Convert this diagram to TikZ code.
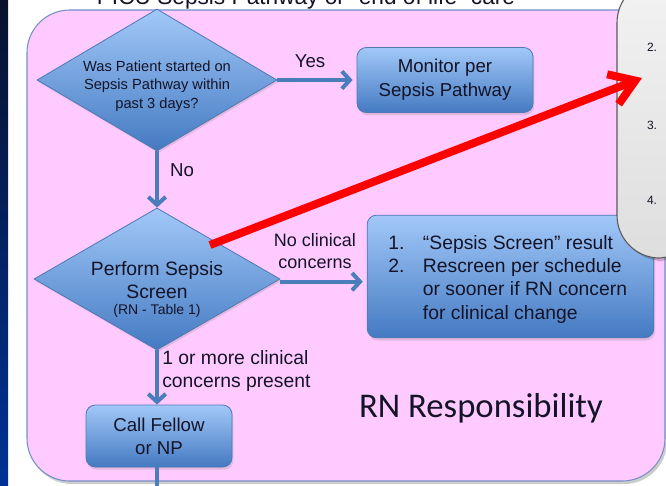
\documentclass[tikz,border=0pt]{standalone}
\usepackage{fontspec}
\setmainfont{Liberation Sans}
\newfontfamily\calib{Carlito}
\usetikzlibrary{shapes.geometric,arrows.meta,shadows}
\definecolor{pinkbg}{RGB}{255,202,255}
\definecolor{pinkline}{RGB}{115,145,200}
\definecolor{bluetop}{RGB}{162,200,248}
\definecolor{bluebot}{RGB}{68,122,194}
\definecolor{blueedge}{RGB}{80,120,180}
\definecolor{arrowblue}{RGB}{74,126,187}
\definecolor{navytop}{RGB}{8,18,45}
\definecolor{navybot}{RGB}{0,50,150}
\definecolor{txt}{RGB}{20,20,40}
\definecolor{panelline}{RGB}{90,90,90}
\tikzset{
  dshape/.style={diamond, draw=blueedge, line width=0.6pt, top color=bluetop, bottom color=bluebot,
    inner sep=0pt, drop shadow={opacity=0.25, shadow xshift=1pt, shadow yshift=-1.5pt}},
  bbox/.style={rectangle, rounded corners=7pt, draw=blueedge, line width=0.6pt, top color=bluetop,
    bottom color=bluebot, align=center, inner sep=0pt, text=txt,
    drop shadow={opacity=0.25, shadow xshift=1pt, shadow yshift=-2pt}},
  flow/.style={draw=arrowblue, line width=3pt, -{Straight Barb[length=6pt,width=13pt]}},
  plainline/.style={draw=arrowblue, line width=3pt},
  lbl/.style={text=txt, align=center, inner sep=0pt},
  numlbl/.style={text=txt, inner sep=0pt, font=\fontsize{9}{11}\selectfont},
  redarrow/.style={draw=red, line width=6pt, -{Straight Barb[length=18pt,width=24pt]}},
}
\begin{document}
\begin{tikzpicture}[x=0.75pt,y=-0.75pt]
\useasboundingbox (0,0) rectangle (666,485);
\clip (0,0) rectangle (666,485);
\fill[white] (0,0) rectangle (666,485);
\shade[top color=navytop,bottom color=navybot] (0,0) rectangle (8,485);
\node[font=\fontsize{17}{20}\selectfont, text=txt, anchor=base, inner sep=0pt] (title) at (306,5)
  {PICU Sepsis Pathway or “end of life” care};
% pink container
\fill[black, opacity=0.2, rounded corners=32pt] (29,13) rectangle (667,484);
\draw[draw=pinkline, line width=0.8pt, fill=pinkbg, rounded corners=32pt] (27,10) rectangle (665,481);
% diamonds
\node[dshape, minimum width=180pt, minimum height=106.5pt] (d1) at (157,80) {};
\node[lbl, font=\fontsize{11}{14}\selectfont] (d1t) at (157,86)
  {Was Patient started on\\Sepsis Pathway within\\past 3 days?};
\node[dshape, minimum width=184.5pt, minimum height=106.5pt] (d2) at (157,279) {};
\node[lbl, font=\fontsize{14.5}{17.5}\selectfont] (d2t) at (157,280) {Perform Sepsis\\Screen};
\node[lbl, font=\fontsize{10.5}{12}\selectfont] (d2s) at (157,311) {(RN - Table 1)};
% boxes
\node[bbox, minimum width=132pt, minimum height=48.75pt, font=\fontsize{14}{18}\selectfont] (mon) at (445,80)
  {Monitor per\\Sepsis Pathway};
\node[bbox, minimum width=215pt, minimum height=92pt] (lst) at (510.5,276.5) {};
\node[lbl, anchor=west, align=left, font=\fontsize{14.5}{17.5}\selectfont] (lstt) at (388,279)
  {\makebox[26pt][l]{1.}“Sepsis Screen” result\\
   \makebox[26pt][l]{2.}Rescreen per schedule\\
   \makebox[26pt][l]{}or sooner if RN concern\\
   \makebox[26pt][l]{}for clinical change};
\node[bbox, minimum width=109.5pt, minimum height=46.5pt, font=\fontsize{14}{17}\selectfont] (call) at (159,436)
  {Call Fellow\\or NP};
\coordinate (callend) at (157,500);
% gray panel (over the list box)
\fill[black, opacity=0.2, rounded corners=32pt]
  (620,-20) -- (620,261) -- (700,261) -- (700,-20) -- cycle;
\draw[draw=panelline, line width=0.8pt, top color=gray!10, bottom color=gray!26, rounded corners=32pt]
  (617,-20) -- (617,258) -- (700,258) -- (700,-20) -- cycle;
\node[numlbl] (n2) at (652,47) {2.};
\node[numlbl] (n3) at (652,125) {3.};
\node[numlbl] (n4) at (652,200) {4.};
% connectors
\draw[flow, shorten >=3pt] (d1.east) -- (mon.west);
\draw[flow] (d1.south) -- (d2.north);
\draw[flow, shorten >=3pt] ([yshift=-2pt]d2.east) -- ([yshift=-2pt]d2.east -| lst.west);
\draw[flow] (d2.south) -- (d2.south |- call.north);
\draw[plainline] (call.south -| d2.south) -- (callend);
% labels
\node[lbl, font=\fontsize{14}{17}\selectfont] (yes) at (310,61) {Yes};
\node[lbl, font=\fontsize{14}{17}\selectfont] (no) at (182,170) {No};
\node[lbl, font=\fontsize{13.5}{16.5}\selectfont] (ncc) at (315,251) {No clinical\\concerns};
\node[lbl, anchor=west, align=left, font=\fontsize{14.5}{17}\selectfont] (more) at (162,371)
  {1 or more clinical\\concerns present};
\node[lbl, font=\calib\fontsize{26}{30}\selectfont] (rn) at (481,408) {RN Responsibility};
% red arrow
\coordinate (rs) at (210,245);
\coordinate (re) at (642,78);
\draw[redarrow] (rs) -- (re);
\end{tikzpicture}
\end{document}
